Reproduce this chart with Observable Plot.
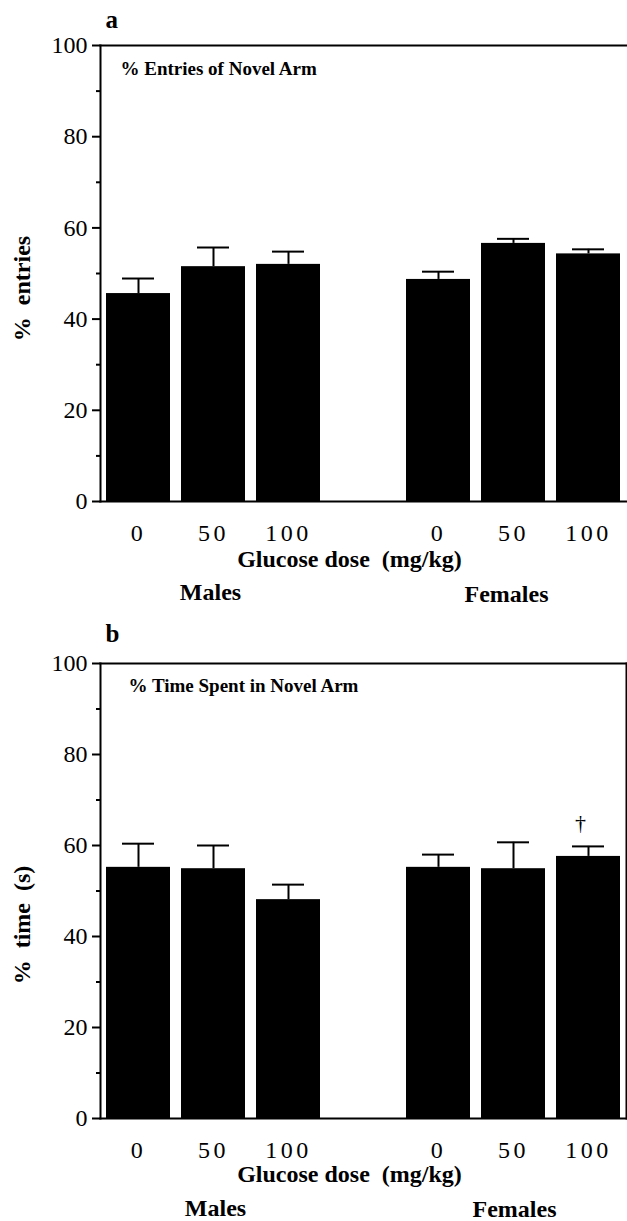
<!DOCTYPE html>
<html><head><meta charset="utf-8">
<script src="https://cdn.jsdelivr.net/npm/d3@7"></script>
<script src="https://cdn.jsdelivr.net/npm/@observablehq/plot@0.6"></script>
<style>
body{margin:0;background:#fff;}
#chart{width:627px;}
svg{display:block;}
g[aria-label="x-axis tick label"] text{letter-spacing:3.5px;}
</style></head><body><div id="chart"></div>
<script>
// ---- data ----
const keys = ["M0","M50","M100","F0","F50","F100"];
const groups = ["Males","Males","Males","Females","Females","Females"];
const doses = ["0","50","100","0","50","100"];
const slots = ["M0","M50","M100","gap","F0","F50","F100"];
const groupLabels = ["Males","Females"];
const groupKeys = ["M50","F50"];
const majorTicks = [0,20,40,60,80,100];
const minorTicks = [10,30,50,70,90];

const entriesMean = [45.6, 51.5, 52.0, 48.7, 56.6, 54.3];
const entriesSem  = [3.3, 4.2, 2.8, 1.7, 1.0, 1.0];
const timeMean = [55.2, 54.9, 48.1, 55.2, 54.9, 57.6];
const timeSem  = [5.2, 5.1, 3.3, 2.8, 5.8, 2.2];
const timeMarks = [{key: "F100", sym: "\u2020"}];

const SERIF = "'Liberation Serif','Times New Roman',Times,serif";
const doseLabel = Object.fromEntries(keys.map((k, i) => [k, doses[i]]));

function panel(o) {
  const data = keys.map((k, i) => ({key: k, group: groups[i], mean: o.means[i], upper: o.means[i] + o.sems[i]}));
  const marksAnn = (o.ann || []).map(a => ({key: a.key, sym: a.sym, y: data.find(d => d.key === a.key).upper}));
  const groupMarks = groupLabels.map((g, i) =>
    Plot.text([{g, key: groupKeys[i]}], {x: "key", text: "g", frameAnchor: "bottom", lineAnchor: "middle",
      dx: o.groupDx[i], dy: o.groupDy[i], fontWeight: "bold", fontSize: 24}));
  return Plot.plot({
    width: 627, height: o.height,
    marginLeft: 100, marginRight: 1, marginTop: o.top, marginBottom: o.bottom,
    style: {fontFamily: SERIF, fontSize: "22px", background: "#fff", color: "#000", overflow: "visible"},
    x: {type: "band", domain: slots, paddingInner: 0.15, paddingOuter: 0.075},
    y: {domain: [0, 100]},
    marks: [
      Plot.barY(data, {x: "key", y: "mean", fill: "#000"}),
      Plot.ruleX(data, {x: "key", y1: "mean", y2: "upper", stroke: "#000", strokeWidth: 2}),
      Plot.tickY(data, {x: "key", y: "upper", stroke: "#000", strokeWidth: 2, insetLeft: 16, insetRight: 16}),
      Plot.axisY({ticks: majorTicks, tickSize: 8, tickPadding: 5, fontSize: 24, label: null, strokeWidth: 2}),
      Plot.axisY({ticks: minorTicks, tickSize: 4, tickFormat: () => "", label: null, strokeWidth: 2}),
      Plot.axisX({tickSize: 0, tickPadding: 22, fontSize: 24, tickFormat: k => doseLabel[k] ?? "", label: null}),
      Plot.frame({anchor: "left", strokeWidth: 2}),
      Plot.frame({anchor: "top", strokeWidth: 2}),
      Plot.frame({anchor: "bottom", strokeWidth: 2}),
      ...(o.right ? [Plot.frame({anchor: "right", strokeWidth: 2})] : []),
      Plot.text([o.letter], {frameAnchor: "top-left", lineAnchor: "middle", dx: 5, dy: o.letterDy, textAnchor: "start", fontWeight: "bold", fontSize: 25}),
      Plot.text([o.title], {frameAnchor: "top-left", lineAnchor: "middle", dx: o.titleDx, dy: o.titleDy, textAnchor: "start", fontWeight: "bold", fontSize: 19}),
      Plot.text([o.ytitle], {frameAnchor: "left", lineAnchor: "middle", textAnchor: "middle", dx: -78, dy: o.ytitleDy, rotate: -90, fontWeight: "bold", fontSize: 24}),
      Plot.text(["Glucose dose  (mg/kg)"], {frameAnchor: "bottom", lineAnchor: "middle", dx: -14, dy: o.xtitleDy, fontWeight: "bold", fontSize: 24}),
      ...groupMarks,
      Plot.text(marksAnn, {x: "key", y: "y", text: "sym", dx: -8, dy: -23, fontSize: 22})
    ]
  });
}

const chart = document.getElementById("chart");
chart.appendChild(panel({
  means: entriesMean, sems: entriesSem, height: 610, top: 45, bottom: 109,
  letter: "a", letterDy: -26, title: "% Entries of Novel Arm", titleDx: 20, titleDy: 23,
  ytitle: "%  entries", ytitleDy: 15, xtitleDy: 58, groupDx: [-3, -7], groupDy: [91, 93], right: false
}));
chart.appendChild(panel({
  means: timeMean, sems: timeSem, ann: timeMarks, height: 611, top: 53, bottom: 103,
  letter: "b", letterDy: -30, title: "% Time Spent in Novel Arm", titleDx: 28, titleDy: 22,
  ytitle: "%  time  (s)", ytitleDy: 34, xtitleDy: 56, groupDx: [2, 1], groupDy: [90, 91], right: true
}));
</script></body></html>
